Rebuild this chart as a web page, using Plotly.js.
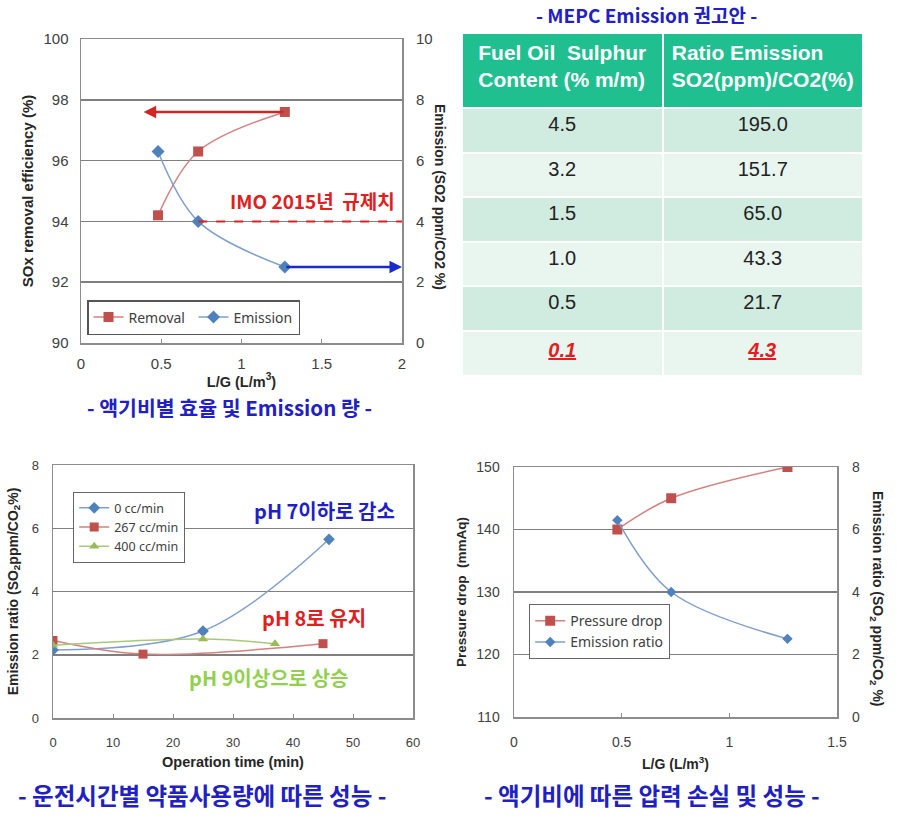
<!DOCTYPE html>
<html>
<head>
<meta charset="utf-8">
<script src="https://cdn.plot.ly/plotly-3.0.1.min.js"></script>
<style>html,body{margin:0;padding:0;background:#fff;}#chart{width:900px;height:818px;}</style>
</head>
<body>
<div id="chart"></div>
<script>
// ---- Data: top-left (L/G vs removal / emission)
var lgRatio = [0.48, 0.73, 1.27];
var removalEff = [94.2, 96.3, 97.6];
var emissionTL = [6.3, 4.0, 2.5];
var imoLimit = 4;

// ---- Data: MEPC table
var tableHeaders = ['Fuel Oil  Sulphur<br>Content (% m/m)', 'Ratio Emission<br>SO2(ppm)/CO2(%)'];
var sulphurContent = [4.5, 3.2, 1.5, 1.0, 0.5, 0.1];
var emissionRatioLimit = [195.0, 151.7, 65.0, 43.3, 21.7, 4.3];

// ---- Data: bottom-left (operation time)
var time0 = [0, 25, 46];
var em0 = [2.15, 2.75, 5.65];
var time267 = [0, 15, 45];
var em267 = [2.45, 2.02, 2.35];
var time400 = [0, 25, 37];
var em400 = [2.3, 2.5, 2.35];

// ---- Data: bottom-right (pressure drop)
var lgRatioBR = [0.48, 0.73, 1.27];
var pressureDrop = [140, 145, 150];
var emissionBR = [6.3, 4.0, 2.5];

var H = 818, W = 900;
function px(x){return x / W;}
function py(y){return 1 - y / H;}

var RED = '#c0504d', RED_LINE = '#d4807e', BLUE = '#4f81bd', BLUE_LINE = '#7f9fcc', GREEN = '#9bbb59';
var FAM = 'Liberation Sans, Arial, sans-serif';
function tickF(s){return {family: FAM, size: s, color: '#404040'};}
function titleF(s){return {family: FAM, size: s, color: '#262626', weight: 'bold'};}
var LEGF = {family: 'Noto Sans, Open Sans, sans-serif', size: 14, color: '#404040'};
var KR = 'Noto Sans CJK KR, sans-serif';
var CAP_BLUE = '#2020c4';
var NB = '\u00a0';

var rowFill = sulphurContent.map(function(v, i){return i % 2 === 0 ? '#d0ebdf' : '#e9f5ef';});
var rowFont = sulphurContent.map(function(v, i){return i === sulphurContent.length - 1 ? '#e02020' : '#222222';});

var traces = [
  {x: lgRatio, y: removalEff, name: 'Removal', mode: 'lines+markers', xaxis: 'x', yaxis: 'y', legend: 'legend',
   line: {color: RED_LINE, width: 1.5, shape: 'spline'}, marker: {symbol: 'square', size: 10, color: RED}},
  {x: lgRatio, y: emissionTL, name: 'Emission', mode: 'lines+markers', xaxis: 'x', yaxis: 'y2', legend: 'legend',
   line: {color: BLUE_LINE, width: 1.5, shape: 'spline'}, marker: {symbol: 'diamond', size: 10, color: BLUE}},
  {type: 'table', domain: {x: [px(462), px(863)], y: [py(380), py(33)]}, columnwidth: [1, 1],
   header: {values: tableHeaders.map(function(h){return '<b>' + h + '</b>';}), align: 'center', height: 75,
     fill: {color: '#1fbf8f'}, line: {color: '#ffffff', width: 2},
     font: {family: FAM, size: 21, color: '#ffffff'}},
   cells: {values: [sulphurContent, emissionRatioLimit].map(function(col){
       return col.map(function(v, i){
         var s = v.toFixed(1);
         return i === col.length - 1 ? '<b><i><u>' + s + '</u></i></b>' : s;
       });
     }),
     align: 'center', height: 44.6,
     fill: {color: [rowFill, rowFill]},
     line: {color: '#ffffff', width: 2},
     font: {family: FAM, size: 20, color: [rowFont, rowFont]}}},
  {x: time0, y: em0, name: '0 cc/min', mode: 'lines+markers', xaxis: 'x3', yaxis: 'y3', legend: 'legend2',
   line: {color: BLUE_LINE, width: 1.5, shape: 'spline'}, marker: {symbol: 'diamond', size: 9, color: BLUE}},
  {x: time267, y: em267, name: '267 cc/min', mode: 'lines+markers', xaxis: 'x3', yaxis: 'y3', legend: 'legend2',
   line: {color: RED_LINE, width: 1.5, shape: 'spline'}, marker: {symbol: 'square', size: 9, color: RED}},
  {x: time400, y: em400, name: '400 cc/min', mode: 'lines+markers', xaxis: 'x3', yaxis: 'y3', legend: 'legend2',
   line: {color: '#a9c97a', width: 1.5, shape: 'spline'}, marker: {symbol: 'triangle-up', size: 9, color: GREEN}},
  {x: lgRatioBR, y: pressureDrop, name: 'Pressure drop', mode: 'lines+markers', xaxis: 'x4', yaxis: 'y4', legend: 'legend3',
   line: {color: RED_LINE, width: 1.5, shape: 'spline'}, marker: {symbol: 'square', size: 10, color: RED}},
  {x: lgRatioBR, y: emissionBR, name: 'Emission ratio', mode: 'lines+markers', xaxis: 'x4', yaxis: 'y5', legend: 'legend3',
   line: {color: BLUE_LINE, width: 1.5, shape: 'spline'}, marker: {symbol: 'diamond', size: 8, color: BLUE}}
];

function xAx(o){
  return {domain: o.dom, anchor: o.anchor, range: o.range, dtick: o.dtick, showgrid: false, zeroline: false, showline: true, mirror: true,
    linecolor: '#8c8c8c', linewidth: 1.5, ticks: 'inside', ticklen: 4, tickcolor: '#8c8c8c', tickfont: tickF(o.tick),
    ticklabelstandoff: o.tls, title: {text: o.title, font: titleF(o.tsize), standoff: o.standoff}, fixedrange: true};
}
function yAx(o){
  return {domain: o.dom, anchor: o.anchor, range: o.range, dtick: o.dtick, showgrid: true, gridcolor: '#7f7f7f', gridwidth: 1.5, zeroline: false,
    showline: true, mirror: true, linecolor: '#8c8c8c', linewidth: 1.5, ticks: '', tickfont: tickF(o.tick),
    ticklabelstandoff: o.tls, title: {text: o.title, font: titleF(o.tsize), standoff: o.standoff}, fixedrange: true};
}

var layout = {
  width: W, height: H, margin: {l: 0, r: 0, t: 0, b: 0}, paper_bgcolor: '#fff', plot_bgcolor: '#fff',
  showlegend: true,
  xaxis: xAx({dom: [px(81), px(402)], anchor: 'y', range: [0, 2], dtick: 0.5, title: 'L/G (L/m<sup>3</sup>)',
    standoff: 4, tick: 15, tls: 6, tsize: 14.5}),
  yaxis: yAx({dom: [py(343), py(39)], anchor: 'x', range: [90, 100], dtick: 2, title: 'SOx removal efficiency (%)',
    standoff: 6, tick: 15, tls: 8, tsize: 15}),
  yaxis2: {overlaying: 'y', anchor: 'x', side: 'right', range: [0, 10], dtick: 2, showgrid: false, zeroline: false, showline: false,
    ticks: '', tickfont: tickF(15), ticklabelstandoff: 13, fixedrange: true},
  xaxis3: xAx({dom: [px(53), px(413)], anchor: 'y3', range: [0, 60], dtick: 10, title: 'Operation time (min)',
    standoff: 8, tick: 13, tls: 12, tsize: 14.5}),
  yaxis3: yAx({dom: [py(718), py(465)], anchor: 'x3', range: [0, 8], dtick: 2, title: 'Emission ratio (SO<sub>2</sub>ppm/CO<sub>2</sub>%)',
    standoff: 10, tick: 13, tls: 10, tsize: 14}),
  xaxis4: xAx({dom: [px(514), px(837)], anchor: 'y4', range: [0, 1.5], dtick: 0.5, title: 'L/G (L/m<sup>3</sup>)',
    standoff: 10, tick: 14, tls: 12, tsize: 14}),
  yaxis4: yAx({dom: [py(717), py(467)], anchor: 'x4', range: [110, 150], dtick: 10, title: 'Pressure drop  (mmAq)',
    standoff: 6, tick: 14, tls: 10, tsize: 13.5}),
  yaxis5: {overlaying: 'y4', anchor: 'x4', side: 'right', range: [0, 8], dtick: 2, showgrid: false, zeroline: false, showline: false,
    ticks: '', tickfont: tickF(14), ticklabelstandoff: 14, fixedrange: true},
  legend: {x: px(87), y: py(300), xanchor: 'left', yanchor: 'top', orientation: 'h', bgcolor: '#fff',
    bordercolor: '#555', borderwidth: 1.5, font: LEGF, entrywidth: 60, itemwidth: 30},
  legend2: {x: px(73), y: py(492), xanchor: 'left', yanchor: 'top', bgcolor: '#fff', bordercolor: '#666', borderwidth: 1.2,
    font: {family: 'Noto Sans, Open Sans, sans-serif', size: 12.5, color: '#404040'}, tracegroupgap: 0, itemwidth: 30},
  legend3: {x: px(529), y: py(604), xanchor: 'left', yanchor: 'top', bgcolor: '#fff', bordercolor: '#666', borderwidth: 1.2,
    font: LEGF, tracegroupgap: 0, itemwidth: 30},
  shapes: [
    {type: 'line', xref: 'x', yref: 'y2', x0: lgRatio[1], x1: 2, y0: imoLimit, y1: imoLimit,
     line: {color: '#e02020', width: 2, dash: 'dash'}}
  ],
  annotations: [
    // arrows
    {xref: 'x', yref: 'y', x: 0.39, y: removalEff[2], axref: 'x', ayref: 'y', ax: lgRatio[2], ay: removalEff[2],
     showarrow: true, arrowhead: 2, arrowsize: 1, arrowwidth: 2.5, arrowcolor: '#d42525', text: ''},
    {xref: 'x', yref: 'y2', x: 2.0, y: emissionTL[2], axref: 'x', ayref: 'y2', ax: lgRatio[2], ay: emissionTL[2],
     showarrow: true, arrowhead: 2, arrowsize: 1, arrowwidth: 2.5, arrowcolor: '#1a2acc', text: ''},
    {xref: 'paper', yref: 'paper', x: px(397), y: py(200), xanchor: 'right', yanchor: 'middle', showarrow: false,
     text: '<b>IMO 2015년' + NB + NB + '규제치</b>', font: {family: KR, size: 19, color: '#e02020'}},
    // right axis titles
    {xref: 'paper', yref: 'paper', x: px(440), y: py(197), xanchor: 'center', yanchor: 'middle', textangle: 90, showarrow: false,
     text: 'Emission (SO2 ppm/CO2 %)', font: titleF(14)},
    {xref: 'paper', yref: 'paper', x: px(877), y: py(599), xanchor: 'center', yanchor: 'middle', textangle: 90, showarrow: false,
     text: 'Emission ratio (SO<sub>2</sub> ppm/CO<sub>2</sub> %)', font: titleF(14)},
    // bottom-left notes
    {xref: 'paper', yref: 'paper', x: px(324), y: py(511), xanchor: 'center', yanchor: 'middle', showarrow: false,
     text: '<b>pH 7이하로 감소</b>', font: {family: KR, size: 20, color: '#1f1fc8'}},
    {xref: 'paper', yref: 'paper', x: px(314), y: py(617), xanchor: 'center', yanchor: 'middle', showarrow: false,
     text: '<b>pH 8로 유지</b>', font: {family: KR, size: 20, color: '#e02020'}},
    {xref: 'paper', yref: 'paper', x: px(268), y: py(677), xanchor: 'center', yanchor: 'middle', showarrow: false,
     text: '<b>pH 9이상으로 상승</b>', font: {family: KR, size: 20, color: '#92d050'}},
    // captions
    {xref: 'paper', yref: 'paper', x: px(230), y: py(407), xanchor: 'center', yanchor: 'middle', showarrow: false,
     text: '<b>-' + NB + '액기비별 효율 및 Emission 량' + NB + '-</b>', font: {family: KR, size: 20.5, color: CAP_BLUE}},
    {xref: 'paper', yref: 'paper', x: px(646), y: py(15), xanchor: 'center', yanchor: 'middle', showarrow: false,
     text: '<b>-' + NB + 'MEPC Emission 권고안' + NB + '-</b>', font: {family: KR, size: 19, color: CAP_BLUE}},
    {xref: 'paper', yref: 'paper', x: px(202), y: py(795), xanchor: 'center', yanchor: 'middle', showarrow: false,
     text: '<b>-' + NB + '운전시간별' + NB + '약품사용량에' + NB + '따른' + NB + '성능' + NB + '-</b>', font: {family: KR, size: 23.5, color: CAP_BLUE}},
    {xref: 'paper', yref: 'paper', x: px(652), y: py(795), xanchor: 'center', yanchor: 'middle', showarrow: false,
     text: '<b>-' + NB + '액기비에' + NB + '따른' + NB + '압력' + NB + '손실' + NB + '및' + NB + '성능' + NB + '-</b>', font: {family: KR, size: 23.5, color: CAP_BLUE}}
  ]
};

Plotly.newPlot('chart', traces, layout, {displayModeBar: false, staticPlot: true});
</script>
</body>
</html>
